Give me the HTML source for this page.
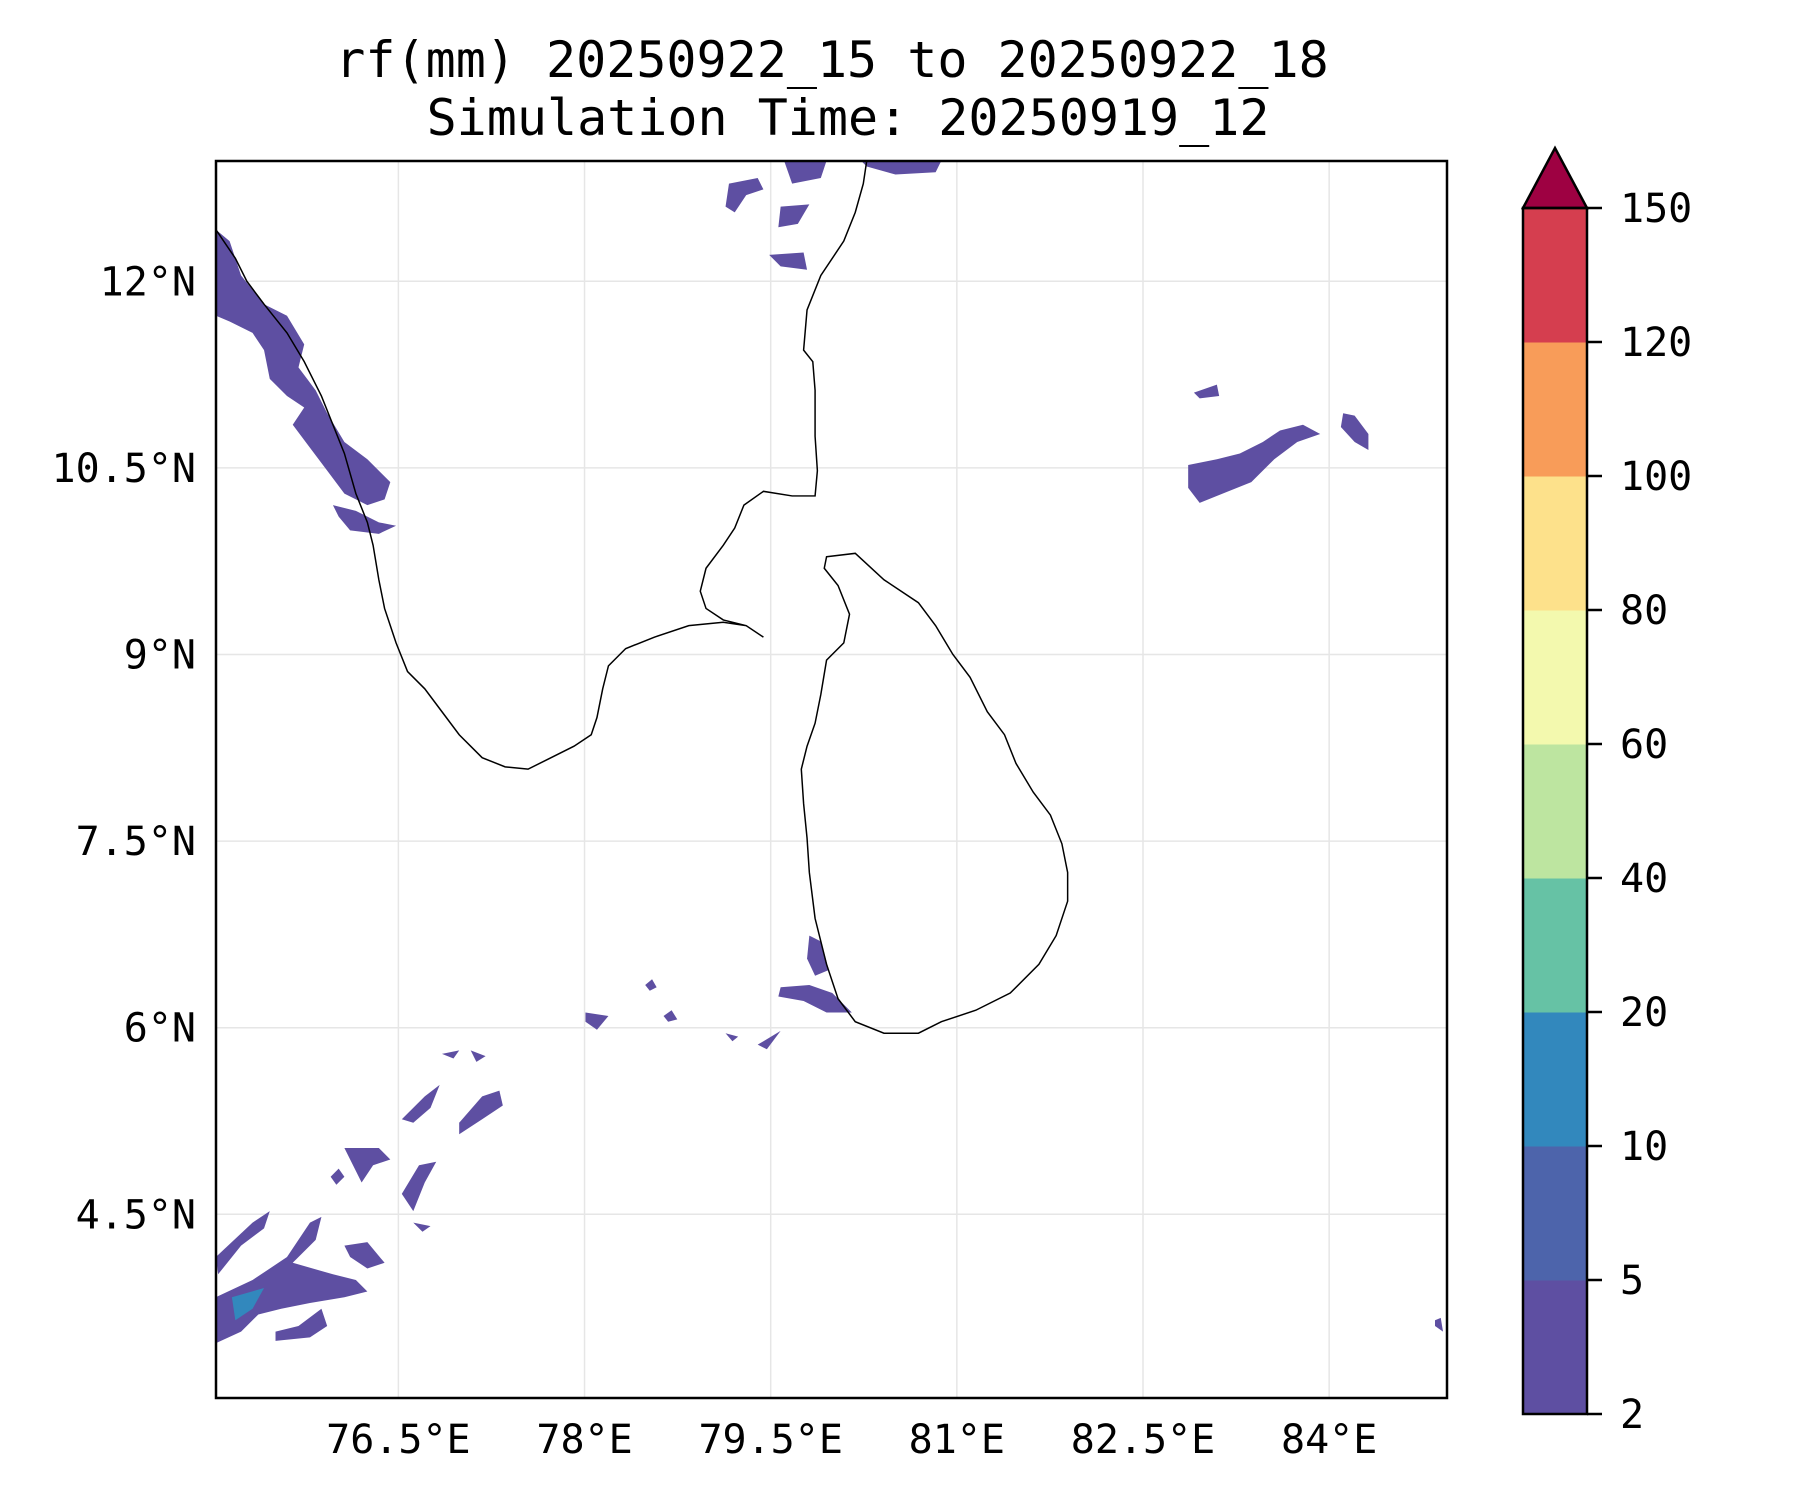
<!DOCTYPE html>
<html><head><meta charset="utf-8"><style>
body{margin:0;background:#fff;width:1800px;height:1500px;overflow:hidden}
svg text{font-family:"DejaVu Sans Mono","Liberation Mono",monospace;fill:#000}
</style></head><body>
<svg id="fig" width="1800" height="1500" viewBox="0 0 1800 1500" xmlns="http://www.w3.org/2000/svg">
<text x="832" y="77" font-size="50" text-anchor="middle">rf(mm) 20250922_15 to 20250922_18</text>
<text x="848" y="135" font-size="50" text-anchor="middle">Simulation Time: 20250919_12</text>
<defs><clipPath id="axclip"><rect x="216" y="161" width="1231" height="1237"/></clipPath></defs>
<g id="grid"></g>
<g clip-path="url(#axclip)">
<g transform="scale(1.148)" fill="#5e4fa2" stroke="none">
<polygon points="188,200 200,210 210,240 230,265 250,275 265,300 260,320 275,340 285,360 300,385 320,400 340,420 335,435 320,440 300,430 285,410 270,390 255,370 265,355 250,345 235,330 230,305 220,290 200,280 188,275"/>
<polygon points="290,440 310,445 330,455 345,458 330,465 305,462 295,450"/>
<polygon points="683,140 720,140 715,155 690,160"/>
<polygon points="750,140 820,140 815,150 780,152 755,145"/>
<polygon points="635,160 660,155 665,165 650,170 640,185 632,180"/>
<polygon points="680,180 705,178 695,195 678,198"/>
<polygon points="670,222 700,220 703,235 680,232"/>
<polygon points="1035,405 1060,400 1080,395 1100,385 1115,375 1135,370 1150,378 1130,385 1110,400 1090,420 1065,430 1045,438 1035,425"/>
<polygon points="1170,360 1180,362 1192,378 1192,392 1180,385 1168,372"/>
<polygon points="1040,342 1060,335 1062,345 1045,347"/>
<polygon points="705,815 715,820 722,845 710,850 703,835"/>
<polygon points="680,860 705,858 725,865 742,882 720,882 700,872 678,868"/>
<polygon points="510,882 530,885 520,897 510,890"/>
<polygon points="660,910 680,898 668,914"/>
<polygon points="632,900 643,903 638,907"/>
<polygon points="578,885 585,880 590,888 582,890"/>
<polygon points="562,858 568,853 572,860 566,863"/>
<polygon points="350,975 370,955 383,945 375,965 360,978"/>
<polygon points="400,978 420,955 435,950 438,963 420,975 400,988"/>
<polygon points="350,1040 365,1015 380,1012 370,1030 360,1055"/>
<polygon points="300,1000 330,1000 340,1010 325,1015 315,1030"/>
<polygon points="188,1095 220,1065 235,1055 230,1070 210,1085 190,1110"/>
<polygon points="188,1130 220,1115 250,1095 270,1065 280,1060 275,1080 255,1100 290,1110 310,1115 320,1125 300,1130 270,1135 245,1140 225,1145 210,1160 188,1170"/>
<polygon points="240,1160 260,1155 280,1140 285,1155 270,1165 240,1168"/>
<polygon points="385,918 400,915 395,922"/>
<polygon points="410,915 423,920 415,925"/>
<polygon points="360,1065 375,1068 368,1073"/>
<polygon points="300,1085 320,1082 335,1100 320,1105 305,1095"/>
<polygon points="288,1025 295,1018 300,1025 293,1032"/>
<polygon points="1250,1150 1255,1148 1257,1160 1250,1155"/>
<polygon points="202,1130 230,1122 220,1140 205,1150" fill="#3288bd"/>
</g>
<g transform="scale(1.148)" fill="none" stroke="#000" stroke-width="1.3">
<polyline points="188,200 205,225 215,245 230,265 250,290 265,315 280,345 290,370 300,395 310,430 320,455 325,475 330,505 335,530 345,560 355,585 370,600 385,620 400,640 420,660 440,668 460,670 480,660 500,650 515,640 520,625 525,600 530,580 545,565 570,555 600,545 630,542 650,545 665,555 650,545 630,540 615,530 610,515 615,495 630,475 640,460 648,440 665,428 690,432 710,432 712,410 710,380 710,340 708,315 700,305 703,270 715,240 735,210 745,185 752,160 755,140"/>
<polygon points="720,485 745,482 770,505 800,525 815,545 830,570 845,590 860,620 875,640 885,665 900,690 915,710 925,735 930,760 930,785 920,815 905,840 880,865 850,880 820,890 800,900 770,900 745,890 730,870 720,840 710,800 705,760 703,730 700,700 698,670 703,650 710,630 715,605 720,575 735,560 740,535 730,510 718,495"/>
</g>
</g>
<rect x="216" y="161" width="1231" height="1237" fill="none" stroke="#000" stroke-width="2.5"/>
<g id="ticks"></g>
<g id="cbar"></g>
</svg>
<script>
const lonTicks=[76.5,78,79.5,81,82.5,84];
const lonLabels=["76.5°E","78°E","79.5°E","81°E","82.5°E","84°E"];
const latTicks=[12,10.5,9,7.5,6,4.5];
const latLabels=["12°N","10.5°N","9°N","7.5°N","6°N","4.5°N"];
const cbLevels=[2,5,10,20,40,60,80,100,120,150];
const cbColors=["#5e4fa2","#4d64ab","#3288bd","#66c2a5","#bde5a0","#f3f9ae","#fde18b","#f89c59","#d53e4f"];
const extendColor="#9e0142";
const NS="http://www.w3.org/2000/svg";
const X=lon=>398.4+(lon-76.5)*124.1;
const Y=lat=>281.3-(lat-12)*124.4;
function mk(t,a,p){const e=document.createElementNS(NS,t);for(const k in a)e.setAttribute(k,a[k]);p.appendChild(e);return e;}
const grid=document.getElementById('grid'),ticks=document.getElementById('ticks'),cb=document.getElementById('cbar');
lonTicks.forEach((v,i)=>{
 const l=mk('line',{x1:X(v),x2:X(v),y1:161,y2:1398,stroke:'#e6e6e6','stroke-width':1.5},grid);
 
 
 const t=mk('text',{x:X(v),y:1453,'font-size':40,'text-anchor':'middle'},ticks);t.textContent=lonLabels[i];
 
 
});
latTicks.forEach((v,i)=>{
 const l=mk('line',{x1:216,x2:1447,y1:Y(v),y2:Y(v),stroke:'#e6e6e6','stroke-width':1.5},grid);
 
 
 const t=mk('text',{x:196,y:Y(v)+14,'font-size':40,'text-anchor':'end'},ticks);t.textContent=latLabels[i];
 
 
});
const cbTop=208,cbStep=134,cbL=1523,cbW=64;
const CY=i=>cbTop+(cbLevels.length-1-i)*cbStep;
cbColors.forEach((c,i)=>{
 const r=mk('rect',{x:cbL,y:CY(i+1),width:cbW,height:cbStep+0.5,fill:c},cb);
 
 
});
const ar=mk('polygon',{points:`${cbL},${cbTop} ${cbL+cbW/2},${cbTop-60} ${cbL+cbW},${cbTop}`,fill:extendColor,stroke:'#000','stroke-width':2.5},cb);


const fr=mk('rect',{x:cbL,y:cbTop,width:cbW,height:CY(0)-cbTop,fill:'none',stroke:'#000','stroke-width':2.5},cb);


cbLevels.forEach((v,i)=>{
 const tk=mk('line',{x1:cbL+cbW,x2:cbL+cbW+15,y1:CY(i),y2:CY(i),stroke:'#000','stroke-width':2.5},cb);
 
 
 const t=mk('text',{x:cbL+cbW+33,y:CY(i)+14,'font-size':40},cb);t.textContent=v;
 
 
});
</script>
</body></html>
